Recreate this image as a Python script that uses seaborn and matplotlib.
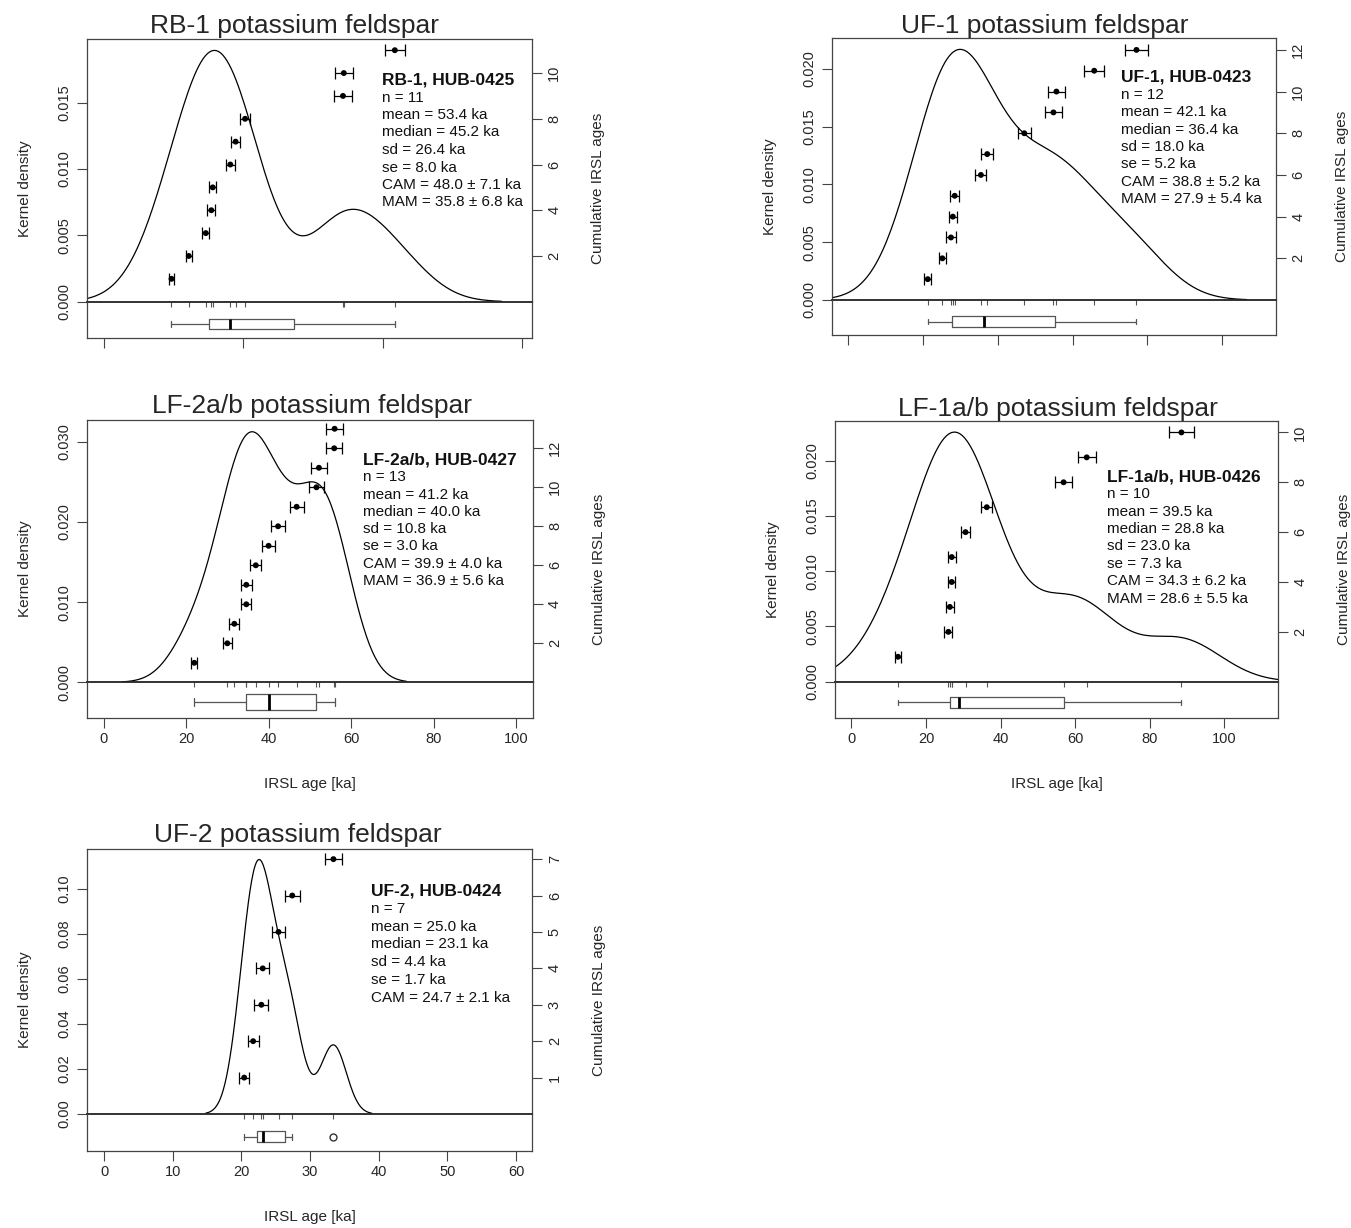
import numpy as np
import pandas as pd
import matplotlib
matplotlib.use("Agg")
import matplotlib.pyplot as plt
import seaborn as sns

# IRSL ages [ka] (sorted) and their 1-sigma errors
rb1_age = [24.3, 30.5, 36.6, 38.6, 39.1, 45.4, 47.3, 50.7, 85.8, 86.1, 104.4]
rb1_err = [0.9, 1.15, 1.2, 1.4, 1.3, 1.65, 1.6, 1.9, 3.1, 3.2, 3.7]
uf1_age = [21.3, 25.2, 27.5, 28.0, 28.5, 35.5, 37.2, 47.1, 54.9, 55.7, 65.8, 77.1]
uf1_err = [1.0, 1.0, 1.25, 1.05, 1.2, 1.5, 1.65, 1.8, 2.2, 2.2, 2.6, 3.0]
lf2_age = [22.0, 30.0, 31.7, 34.6, 34.6, 36.9, 40.0, 42.3, 46.8, 51.6, 52.2, 55.9, 56.0]
lf2_err = [0.75, 1.15, 1.2, 1.25, 1.3, 1.3, 1.5, 1.6, 1.7, 1.9, 2.0, 2.0, 2.05]
lf1_age = [12.5, 26.0, 26.4, 26.9, 26.9, 30.6, 36.3, 56.9, 63.1, 88.5]
lf1_err = [0.75, 1.05, 1.1, 1.0, 1.05, 1.3, 1.45, 2.35, 2.45, 3.4]
uf2_age = [20.4, 21.7, 22.9, 23.1, 25.4, 27.4, 33.4]
uf2_err = [0.75, 0.8, 1.0, 0.95, 1.0, 1.1, 1.25]

rb1_stats = ["RB-1, HUB-0425", "n = 11", "mean = 53.4 ka", "median = 45.2 ka", "sd = 26.4 ka",
             "se = 8.0 ka", "CAM = 48.0 \u00b1 7.1 ka", "MAM = 35.8 \u00b1 6.8 ka"]
uf1_stats = ["UF-1, HUB-0423", "n = 12", "mean = 42.1 ka", "median = 36.4 ka", "sd = 18.0 ka",
             "se = 5.2 ka", "CAM = 38.8 \u00b1 5.2 ka", "MAM = 27.9 \u00b1 5.4 ka"]
lf2_stats = ["LF-2a/b, HUB-0427", "n = 13", "mean = 41.2 ka", "median = 40.0 ka", "sd = 10.8 ka",
             "se = 3.0 ka", "CAM = 39.9 \u00b1 4.0 ka", "MAM = 36.9 \u00b1 5.6 ka"]
lf1_stats = ["LF-1a/b, HUB-0426", "n = 10", "mean = 39.5 ka", "median = 28.8 ka", "sd = 23.0 ka",
             "se = 7.3 ka", "CAM = 34.3 \u00b1 6.2 ka", "MAM = 28.6 \u00b1 5.5 ka"]
uf2_stats = ["UF-2, HUB-0424", "n = 7", "mean = 25.0 ka", "median = 23.1 ka", "sd = 4.4 ka",
             "se = 1.7 ka", "CAM = 24.7 \u00b1 2.1 ka"]

W, H = 1351, 1228

sns.set_style("ticks")
plt.rcParams["font.family"] = ["Liberation Sans", "DejaVu Sans"]

# layout of each panel in pixels: frame (l, t, r, b), y of the zero line
panels = [
    dict(title="RB-1 potassium feldspar", age=rb1_age, err=rb1_err, stats=rb1_stats,
         frame=(87, 39, 532, 338), zero=301.7, ytop=0.01979, ntop=11.49, xlim=(-6.0, 153.6),
         xticks=[0, 50, 100, 150], yticks=[0, 0.005, 0.010, 0.015], yfmt="{:.3f}",
         rticks=[2, 4, 6, 8, 10], box=(22.3, 10.5), text=(382, 80, 17.5),
         title_xy=(295, 33), xlabels=False),
    dict(title="UF-1 potassium feldspar", age=uf1_age, err=uf1_err, stats=uf1_stats,
         frame=(832, 38, 1276, 335), zero=300, ytop=0.02268, ntop=12.57, xlim=(-4.3, 114.4),
         xticks=[0, 20, 40, 60, 80, 100], yticks=[0, 0.005, 0.010, 0.015, 0.020], yfmt="{:.3f}",
         rticks=[2, 4, 6, 8, 10, 12], box=(21.7, 11), text=(1121, 77.3, 17.4),
         title_xy=(1045, 33), xlabels=False),
    dict(title="LF-2a/b potassium feldspar", age=lf2_age, err=lf2_err, stats=lf2_stats,
         frame=(87, 420, 532.7, 718.3), zero=682.3, ytop=0.0327, ntop=13.45, xlim=(-4.0, 104.0),
         xticks=[0, 20, 40, 60, 80, 100], yticks=[0, 0.010, 0.020, 0.030], yfmt="{:.3f}",
         rticks=[2, 4, 6, 8, 10, 12], box=(19.4, 16), text=(363, 460, 17.3),
         title_xy=(312, 413), xlabels=True),
    dict(title="LF-1a/b potassium feldspar", age=lf1_age, err=lf1_err, stats=lf1_stats,
         frame=(835, 420.7, 1278, 717.7), zero=681.7, ytop=0.02362, ntop=10.47, xlim=(-4.4, 114.4),
         xticks=[0, 20, 40, 60, 80, 100], yticks=[0, 0.005, 0.010, 0.015, 0.020], yfmt="{:.3f}",
         rticks=[2, 4, 6, 8, 10], box=(20.6, 11), text=(1107, 476.7, 17.4),
         title_xy=(1058, 416), xlabels=True),
    dict(title="UF-2 potassium feldspar", age=uf2_age, err=uf2_err, stats=uf2_stats,
         frame=(87, 849.3, 532.5, 1151), zero=1114, ytop=0.1176, ntop=7.27, xlim=(-2.5, 62.4),
         xticks=[0, 10, 20, 30, 40, 50, 60], yticks=[0, 0.02, 0.04, 0.06, 0.08, 0.10], yfmt="{:.2f}",
         rticks=[1, 2, 3, 4, 5, 6, 7], box=(22.7, 11.3), text=(371, 891, 17.8),
         title_xy=(298, 842), xlabels=True),
]

FRAME = "#444444"
fig = plt.figure(figsize=(W / 100, H / 100), dpi=100)


def rect(l, t, r, b):
    return [l / W, 1 - b / H, (r - l) / W, (b - t) / H]


def ftext(x, y, s, **kw):
    fig.text(x / W, 1 - y / H, s, **kw)


def tukey_stats(x):
    # same box statistics as R's boxplot (hinges from fivenum)
    x = np.sort(np.asarray(x, dtype=float))
    n = len(x)
    n4 = np.floor((n + 3) / 2) / 2
    idx = np.array([1, n4, (n + 1) / 2, n + 1 - n4, n]) - 1
    five = 0.5 * (x[np.floor(idx).astype(int)] + x[np.ceil(idx).astype(int)])
    q1, med, q3 = five[1], five[2], five[3]
    iqr = q3 - q1
    inside = x[(x >= q1 - 1.5 * iqr) & (x <= q3 + 1.5 * iqr)]
    return dict(med=med, q1=q1, q3=q3, whislo=inside.min(), whishi=inside.max(),
                fliers=x[(x < q1 - 1.5 * iqr) | (x > q3 + 1.5 * iqr)])


def draw_panel(p):
    l, t, r, b = p["frame"]
    z = p["zero"]
    df = pd.DataFrame({"age": p["age"], "err": p["err"]})
    df["n"] = np.arange(1, len(df) + 1)

    ax = fig.add_axes(rect(l, t, r, z))
    axb = fig.add_axes(rect(l, z, r, b), sharex=ax)

    # kernel density with the nrd0 bandwidth (R default)
    sd = df["age"].std()
    q1, q3 = np.percentile(df["age"], [25, 75])
    bw = 0.9 * min(sd, (q3 - q1) / 1.34) * len(df) ** -0.2
    sns.kdeplot(data=df, x="age", bw_method=bw / sd, color="black", linewidth=0.9, ax=ax)
    sns.rugplot(data=df, x="age", height=-5 / (z - t), color="#555555", linewidth=0.8,
                clip_on=False, expand_margins=False, ax=ax)
    ax.set_ylim(0, p["ytop"])
    ax.set_xlabel("")
    ax.set_ylabel("")

    # cumulative ages with error bars on the right-hand axis
    ax2 = ax.twinx()
    ax2.errorbar(df["age"], df["n"], xerr=df["err"], fmt="none", ecolor="black",
                 elinewidth=0.9, capsize=4.5, capthick=0.9)
    sns.scatterplot(data=df, x="age", y="n", color="black", s=18, edgecolor="none",
                    ax=ax2, zorder=3)
    ax2.set_ylim(0, p["ntop"])
    ax2.set_ylabel("")

    # boxplot underneath
    axb.bxp([tukey_stats(df["age"])], positions=[0], widths=0.8, orientation="horizontal",
            capwidths=0.4, manage_ticks=False,
            boxprops=dict(color="#555555", linewidth=0.9),
            whiskerprops=dict(color="#555555", linewidth=0.9),
            capprops=dict(color="#555555", linewidth=0.9),
            medianprops=dict(color="black", linewidth=2),
            flierprops=dict(marker="o", markerfacecolor="none", markeredgecolor="#333333",
                            markersize=5))
    d, hb = p["box"]
    unit = hb / 0.8
    axb.set_ylim(-((b - z) - d) / unit, d / unit)
    axb.set_yticks([])

    ax.set_xlim(*p["xlim"])
    axb.set_xticks(p["xticks"])
    axb.set_xticklabels([str(v) for v in p["xticks"]] if p["xlabels"] else [])
    axb.tick_params(axis="x", length=7, width=0.8, color=FRAME, labelsize=10.5, pad=3)
    ax.tick_params(axis="x", bottom=False, labelbottom=False)

    ax.set_yticks(p["yticks"], [p["yfmt"].format(v) for v in p["yticks"]])
    ax.tick_params(axis="y", length=7, width=0.8, color=FRAME, labelsize=10.5, pad=4)
    plt.setp(ax.get_yticklabels(), rotation=90, va="center")
    ax2.set_yticks(p["rticks"], [str(v) for v in p["rticks"]])
    ax2.tick_params(axis="y", length=7, width=0.8, color=FRAME, labelsize=10.5, pad=4)
    plt.setp(ax2.get_yticklabels(), rotation=90, va="center")

    for sp in list(ax.spines.values()) + list(axb.spines.values()):
        sp.set_color(FRAME)
        sp.set_linewidth(0.9)
    ax.spines["bottom"].set_color("#222222")
    ax.spines["bottom"].set_linewidth(1.3)
    axb.spines["top"].set_visible(False)
    for sp in ax2.spines.values():
        sp.set_visible(False)
    ax.set_facecolor("none")
    axb.set_facecolor("none")

    # titles, axis labels and statistics
    tx, ty = p["title_xy"]
    ftext(tx, ty, p["title"], ha="center", va="baseline", fontsize=19)
    mid = (t + b) / 2
    ftext(l - 62, mid, "Kernel density", rotation=90, ha="center", va="center", fontsize=11)
    ftext(r + 66, mid, "Cumulative IRSL ages", rotation=90, ha="center", va="center", fontsize=11)
    if p["xlabels"]:
        ftext((l + r) / 2, b + 66, "IRSL age [ka]", ha="center", va="center", fontsize=11)
    sx, sy, step = p["text"]
    for i, line in enumerate(p["stats"]):
        ftext(sx, sy + i * step, line, ha="left", va="center",
              fontsize=12.5 if i == 0 else 11, fontweight="bold" if i == 0 else "normal",
              color="#111111")


for p in panels:
    draw_panel(p)

fig.savefig("out.png", dpi=100)
